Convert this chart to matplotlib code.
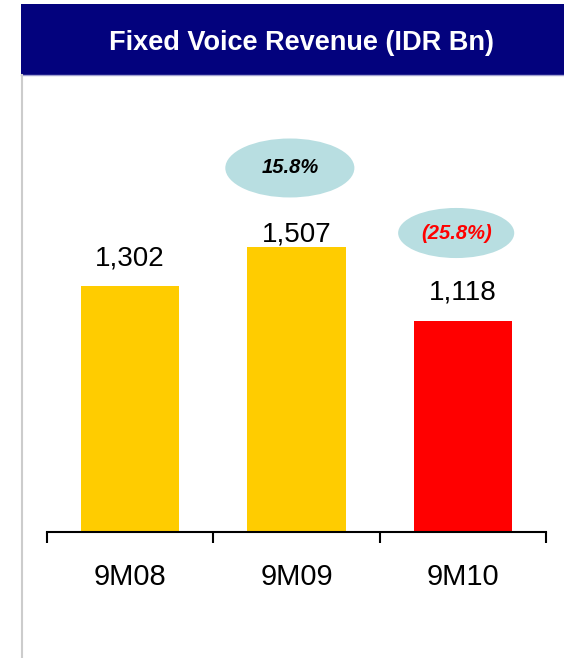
import matplotlib
matplotlib.use("Agg")
import matplotlib.pyplot as plt
from matplotlib.patches import Rectangle, Ellipse
from matplotlib.lines import Line2D

plt.rcParams["font.family"] = ["Liberation Sans", "DejaVu Sans"]

# Fixed voice revenue, IDR Bn
periods = ["9M08", "9M09", "9M10"]
revenue = [1302, 1507, 1118]
value_labels = ["1,302", "1,507", "1,118"]
growth_labels = ["15.8%", "(25.8%)"]

bar_colors = ["#FFCC00", "#FFCC00", "#FF0000"]
growth_colors = ["black", "#FF0000"]
label_offsets = [20, 9, 20]        # points above bar top
bubble_lift = [419, 464]           # bubble centre above bar top, data units
bubble_size = [(0.776, 312), (0.698, 265)]

W, H = 564, 658
fig = plt.figure(figsize=(W / 100, H / 100), dpi=100)

# header band
fig.patches.append(Rectangle((21 / W, 1 - 75 / H), 1 - 21 / W, 71 / H,
                             transform=fig.transFigure, facecolor="#03027D",
                             edgecolor="none", zorder=0))
fig.lines.append(Line2D([21 / W, 1], [1 - 75 / H, 1 - 75 / H],
                        transform=fig.transFigure, color="#A0A0D0", lw=1))
fig.lines.append(Line2D([21.5 / W, 21.5 / W], [0, 1 - 75 / H],
                        transform=fig.transFigure, color="#CCCCCC", lw=1.5))
fig.text(301.5 / W, 1 - 49.5 / H, "Fixed Voice Revenue (IDR Bn)", color="white",
         fontsize=19.5, fontweight="bold", ha="center", va="baseline")

# plot area: baseline at 532 px, bars scaled 0.189 px per unit
top_px = 100
ax = fig.add_axes([47 / W, 1 - 532 / H, (546 - 47) / W, (532 - top_px) / H])
ax.set_xlim(-0.5, 2.5)
ax.set_ylim(0, (532 - top_px) / 0.189)

x = list(range(len(periods)))
ax.bar(x, revenue, width=0.59, color=bar_colors, zorder=2)

for xi, v, txt, off in zip(x, revenue, value_labels, label_offsets):
    ax.annotate(txt, (xi, v), xytext=(0, off), textcoords="offset points",
                ha="center", va="center", fontsize=20)

# growth bubbles above the later period of each pair
for i, (g, c) in enumerate(zip(growth_labels, growth_colors)):
    xi = x[i + 1] - 0.04
    yi = revenue[i + 1] + bubble_lift[i]
    w, h = bubble_size[i]
    ax.add_patch(Ellipse((xi, yi), w, h, facecolor="#B8DEE1",
                         edgecolor="none", zorder=3, clip_on=False))
    ax.text(xi, yi, g, ha="center", va="center", fontsize=14.5,
            fontweight="bold", fontstyle="italic", color=c, zorder=4)

for s in ["top", "left", "right"]:
    ax.spines[s].set_visible(False)
ax.spines["bottom"].set_linewidth(1.5)
ax.set_yticks([])

ax.set_xticks([-0.5, 0.5, 1.5, 2.5])
ax.set_xticklabels([])
ax.tick_params(axis="x", which="major", direction="out", length=8, width=1.5)
ax.set_xticks(x, minor=True)
ax.set_xticklabels(periods, minor=True, fontsize=21)
ax.tick_params(axis="x", which="minor", length=0, pad=22)

fig.savefig("out.png", dpi=100)
